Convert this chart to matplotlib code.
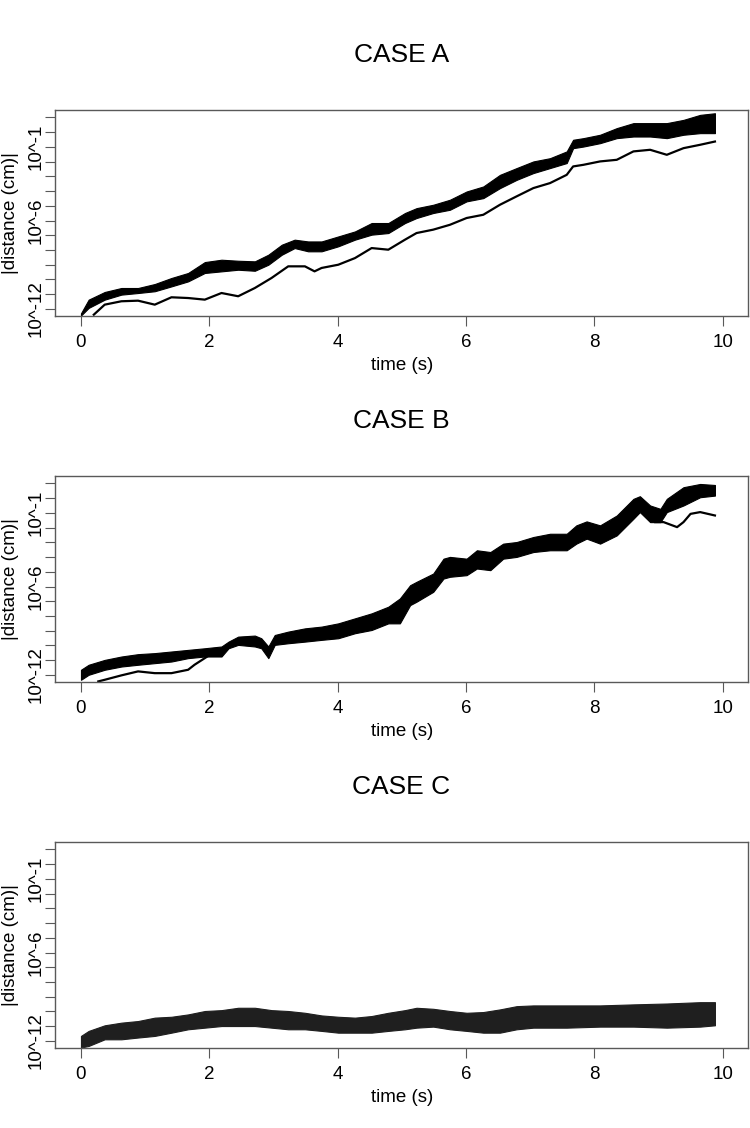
import numpy as np
import matplotlib.pyplot as plt

plt.rcParams['font.family'] = ['Liberation Sans', 'DejaVu Sans']

# exponents (log10 of |distance| in cm)

# CASE A: dense main band (upper / lower edge) and the lower thin series
t_a = [0.0, 0.12, 0.37, 0.63, 0.89, 1.15, 1.41, 1.67, 1.93, 2.19, 2.45, 2.71, 2.92, 3.13,
       3.33, 3.54, 3.75, 4.01, 4.27, 4.53, 4.79, 5.05, 5.23, 5.49, 5.75, 6.01, 6.27, 6.53,
       6.79, 7.05, 7.31, 7.57, 7.67, 7.83, 8.09, 8.35, 8.61, 8.87, 9.13, 9.39, 9.65, 9.88]
a_hi = [-12.3, -11.37, -10.85, -10.58, -10.58, -10.31, -9.90, -9.56, -8.82, -8.66, -8.73,
        -8.77, -8.32, -7.64, -7.30, -7.42, -7.42, -7.08, -6.74, -6.17, -6.17, -5.49, -5.16,
        -4.93, -4.59, -4.03, -3.69, -2.90, -2.44, -1.99, -1.77, -1.31, -0.52, -0.41, -0.18,
        0.27, 0.61, 0.61, 0.61, 0.83, 1.17, 1.28]
a_lo = [-12.45, -11.93, -11.37, -11.03, -10.92, -10.80, -10.47, -10.13, -9.56, -9.45, -9.34,
        -9.41, -9.00, -8.32, -7.87, -8.09, -8.09, -7.75, -7.30, -6.96, -6.85, -6.17, -5.83,
        -5.49, -5.27, -4.70, -4.48, -3.80, -3.24, -2.78, -2.44, -2.10, -1.09, -0.98, -0.75,
        -0.41, -0.30, -0.30, -0.41, -0.18, -0.07, -0.07]
t_a2 = [0.2, 0.37, 0.63, 0.89, 1.15, 1.41, 1.67, 1.93, 2.19, 2.45, 2.71, 2.97, 3.23, 3.49,
        3.64, 3.75, 4.01, 4.27, 4.53, 4.79, 5.05, 5.23, 5.49, 5.75, 6.01, 6.27, 6.53, 6.79,
        7.05, 7.31, 7.57, 7.67, 7.83, 8.09, 8.35, 8.61, 8.87, 9.13, 9.39, 9.65, 9.88]
a2 = [-12.39, -11.71, -11.48, -11.44, -11.71, -11.21, -11.26, -11.37, -10.92, -11.14, -10.58,
      -9.90, -9.11, -9.11, -9.45, -9.22, -9.00, -8.55, -7.87, -7.98, -7.30, -6.85, -6.62,
      -6.29, -5.83, -5.61, -4.93, -4.36, -3.80, -3.46, -2.90, -2.33, -2.22, -1.99, -1.88,
      -1.31, -1.20, -1.54, -1.09, -0.86, -0.64]

# CASE B
t_b = [0.0, 0.12, 0.37, 0.63, 0.89, 1.15, 1.41, 1.67, 1.93, 2.19, 2.30, 2.45, 2.71, 2.81,
       2.92, 3.02, 3.23, 3.49, 3.75, 4.01, 4.27, 4.53, 4.79, 4.97, 5.13, 5.23, 5.49, 5.65,
       5.75, 6.01, 6.17, 6.38, 6.58, 6.79, 7.05, 7.31, 7.57, 7.72, 7.88, 8.09, 8.35, 8.61,
       8.71, 8.87, 9.03, 9.13, 9.39, 9.65, 9.88]
b_hi = [-11.65, -11.31, -10.98, -10.75, -10.59, -10.52, -10.41, -10.30, -10.19, -10.07, -9.74,
        -9.40, -9.33, -9.51, -10.07, -9.29, -9.06, -8.84, -8.72, -8.50, -8.16, -7.82, -7.37,
        -6.81, -5.91, -5.68, -5.12, -4.11, -3.99, -4.11, -3.54, -3.66, -3.09, -2.98, -2.64,
        -2.42, -2.42, -1.85, -1.58, -1.85, -1.18, -0.05, 0.13, -0.50, -0.73, -0.05, 0.74,
        0.96, 0.89]
b_lo = [-12.33, -11.99, -11.65, -11.43, -11.31, -11.20, -11.09, -10.86, -10.75, -10.75,
        -10.19, -9.96, -10.07, -10.19, -10.86, -9.96, -9.85, -9.74, -9.62, -9.51, -9.17,
        -8.95, -8.50, -8.50, -7.26, -7.03, -6.36, -5.46, -5.34, -5.23, -4.78, -4.89, -4.11,
        -3.99, -3.66, -3.54, -3.54, -3.09, -2.75, -3.09, -2.53, -1.40, -0.95, -1.63, -1.63,
        -0.95, -0.50, 0.06, 0.17]
t_b2 = [0.27, 0.37, 0.63, 0.89, 1.15, 1.41, 1.67, 1.77, 1.93, 2.05]
b2 = [-12.44, -12.33, -12.03, -11.76, -11.88, -11.88, -11.65, -11.31, -10.86, -10.52]
t_b3 = [8.95, 9.08, 9.29, 9.39, 9.5, 9.65, 9.88]
b3 = [-1.63, -1.63, -1.97, -1.63, -1.07, -0.95, -1.18]

# CASE C
t_c = [0.0, 0.12, 0.37, 0.63, 0.89, 1.15, 1.41, 1.67, 1.93, 2.19, 2.45, 2.71, 2.97, 3.23,
       3.49, 3.75, 4.01, 4.27, 4.53, 4.79, 5.05, 5.23, 5.49, 5.75, 6.01, 6.27, 6.53, 6.79,
       7.05, 7.57, 8.09, 8.61, 9.13, 9.65, 9.88]
c_hi = [-11.66, -11.32, -10.94, -10.76, -10.65, -10.42, -10.36, -10.20, -9.97, -9.91, -9.75,
        -9.75, -9.91, -9.97, -10.09, -10.27, -10.36, -10.42, -10.31, -10.09, -9.91, -9.75,
        -9.82, -9.97, -10.09, -10.04, -9.86, -9.64, -9.59, -9.59, -9.59, -9.52, -9.46, -9.37,
        -9.37]
c_lo = [-12.45, -12.34, -11.89, -11.89, -11.77, -11.66, -11.44, -11.21, -11.10, -10.99,
        -10.99, -10.99, -11.10, -11.21, -11.21, -11.32, -11.44, -11.44, -11.44, -11.32,
        -11.21, -11.10, -11.03, -11.21, -11.32, -11.44, -11.44, -11.21, -11.10, -11.10,
        -11.03, -11.03, -11.10, -11.03, -10.94]

titles = ['CASE A', 'CASE B', 'CASE C']
ytick_exp = list(range(-12, 2))
ytick_lab = {-1: '10^-1', -6: '10^-6', -12: '10^-12'}

W, H = 750, 1128
fig = plt.figure(figsize=(W / 100, H / 100), dpi=100)

tops = [110, 476, 842]
panels = [
    (t_a, a_hi, a_lo, [(t_a2, a2)], 'black'),
    (t_b, b_hi, b_lo, [(t_b2, b2), (t_b3, b3)], 'black'),
    (t_c, c_hi, c_lo, [], '0.12'),
]

for i, (t, hi, lo, extra, col) in enumerate(panels):
    top = tops[i]
    ax = fig.add_axes([55.3 / W, (H - top - 206) / H, 693 / W, 206 / H])
    ax.fill_between(t, 10.0 ** np.array(lo), 10.0 ** np.array(hi),
                    color=col, lw=0.8)
    for tx, vx in extra:
        ax.plot(tx, 10.0 ** np.array(vx), color='black', lw=1.6)
    ax.set_yscale('log')
    ax.set_xlim(-0.4, 10.4)
    ax.set_ylim(10 ** -12.48, 10 ** 1.5)
    ax.set_xticks([0, 2, 4, 6, 8, 10])
    ax.set_yticks([10.0 ** k for k in ytick_exp])
    ax.set_yticklabels([ytick_lab.get(k, '') for k in ytick_exp],
                       rotation=90, va='center')
    ax.yaxis.set_minor_locator(plt.NullLocator())
    ax.tick_params(direction='out', length=7, width=0.8, color='0.35',
                   labelsize=13.5)
    ax.tick_params(axis='x', pad=6)
    ax.tick_params(axis='y', pad=1)
    for s in ax.spines.values():
        s.set_color('0.35')
        s.set_linewidth(1.0)
    ax.set_xlabel('time (s)', fontsize=13.5, labelpad=4)
    ax.set_ylabel('|distance (cm)|', fontsize=13.5, labelpad=6)
    fig.text(0.535, 1 - (top - 55) / H, titles[i], ha='center', va='center',
             fontsize=19)

plt.savefig('out.png', dpi=100)
